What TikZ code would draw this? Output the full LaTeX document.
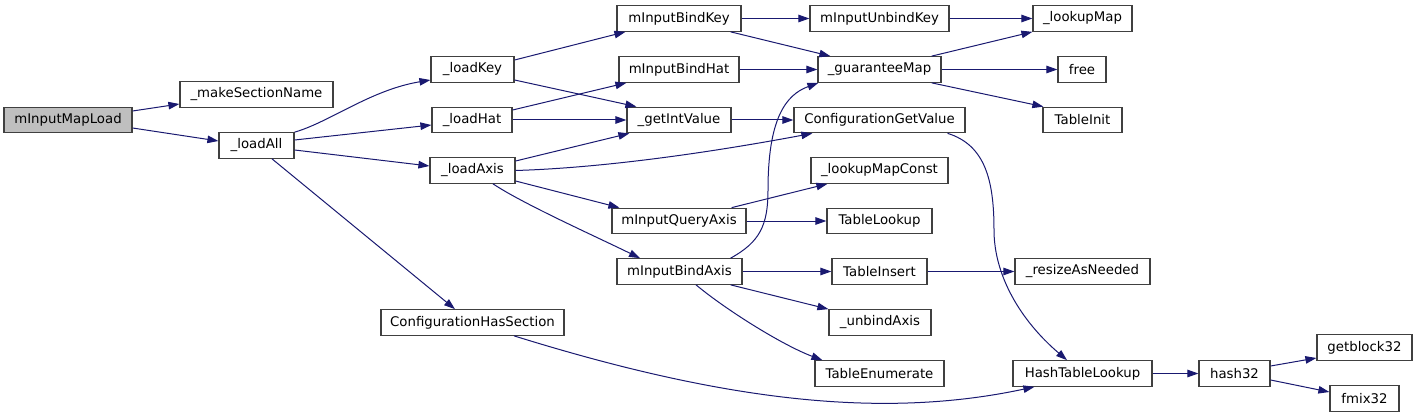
\documentclass[tikz,border=0pt]{standalone}
\usepackage{fontspec}
\setmainfont{DejaVu Sans}
\usetikzlibrary{arrows.meta}
\definecolor{edgeblue}{HTML}{191970}
\definecolor{boxline}{HTML}{404040}
\definecolor{rootfill}{HTML}{BFBFBF}
\tikzset{
  fn/.style={draw=boxline, line width=1.2pt, fill=white, minimum height=25.5pt, inner sep=0pt, font=\fontsize{13.3}{16}\selectfont},
  rootfn/.style={fn, fill=rootfill},
  call/.style={draw=edgeblue, line width=1pt, -{Triangle[length=11pt,width=7.5pt,fill=edgeblue]}}
}
\begin{document}
\begin{tikzpicture}[x=1pt,y=-1pt]
\useasboundingbox (0,0) rectangle (1417,417);
% column 0
\node[rootfn, minimum width=128pt] (mil) at (68,120) {mInputMapLoad};
% column 1
\node[fn, minimum width=153pt] (msn) at (256.5,94.5) {\_makeSectionName};
\node[fn, minimum width=75pt] (la) at (256.5,145.5) {\_loadAll};
% column 2
\node[fn, minimum width=83pt] (lk) at (472.5,69.5) {\_loadKey};
\node[fn, minimum width=80pt] (lh) at (472,120) {\_loadHat};
\node[fn, minimum width=85pt] (lax) at (472.5,170.5) {\_loadAxis};
\node[fn, minimum width=183pt] (chs) at (472.5,322.5) {ConfigurationHasSection};
% column 3
\node[fn, minimum width=124pt] (mibk) at (679,18.5) {mInputBindKey};
\node[fn, minimum width=120pt] (mibh) at (679,69.5) {mInputBindHat};
\node[fn, minimum width=104pt] (giv) at (679,120) {\_getIntValue};
\node[fn, minimum width=134pt] (miqa) at (679,221) {mInputQueryAxis};
\node[fn, minimum width=125pt] (miba) at (679.5,271.5) {mInputBindAxis};
% column 4
\node[fn, minimum width=139pt] (miuk) at (879.5,18.5) {mInputUnbindKey};
\node[fn, minimum width=123pt] (gm) at (879.5,69.5) {\_guaranteeMap};
\node[fn, minimum width=171pt] (cgv) at (879.5,120) {ConfigurationGetValue};
\node[fn, minimum width=137pt] (lmc) at (879.5,170.5) {\_lookupMapConst};
\node[fn, minimum width=105pt] (tl) at (879.5,221) {TableLookup};
\node[fn, minimum width=95pt] (tins) at (879.5,271.5) {TableInsert};
\node[fn, minimum width=102pt] (ua) at (880,322.5) {\_unbindAxis};
\node[fn, minimum width=129pt] (te) at (879.5,373.5) {TableEnumerate};
% column 5
\node[fn, minimum width=99pt] (lm) at (1082.5,18.5) {\_lookupMap};
\node[fn, minimum width=48pt] (free) at (1082,69.5) {free};
\node[fn, minimum width=79pt] (ti) at (1082.5,120) {TableInit};
\node[fn, minimum width=135pt] (ran) at (1082.5,271.5) {\_resizeAsNeeded};
\node[fn, minimum width=139pt] (htl) at (1082.5,373.5) {HashTableLookup};
% column 6,7
\node[fn, minimum width=71pt] (h32) at (1234.5,373.5) {hash32};
\node[fn, minimum width=95pt] (gb) at (1364.5,347.5) {getblock32};
\node[fn, minimum width=69pt] (fm) at (1364.5,398.5) {fmix32};

% edges
\draw[call] ([yshift=9pt]mil.east) -- ([yshift=-9.5pt]msn.west);
\draw[call] ([yshift=-8pt]mil.east) -- ([yshift=4.5pt]la.west);
\draw[call] (la.north east) .. controls +(35,-10) and +(-60,10) .. ([yshift=-10.5pt]lk.west);
\draw[call] ([yshift=5.5pt]la.east) -- ([yshift=-5pt]lh.west);
\draw[call] ([yshift=-4.5pt]la.east) -- ([yshift=4.5pt]lax.west);
\draw[call] ([xshift=15.5pt]la.south) -- ([xshift=-17.5pt]chs.north);

\draw[call] ([yshift=9.5pt]lk.east) -- ([xshift=9pt]mibk.south west);
\draw[call] ([yshift=-10.5pt]lk.east) -- ([xshift=10pt]giv.north west);
\draw[call] ([yshift=10pt]lh.east) -- ([xshift=8pt]mibh.south west);
\draw[call] (lh.east) -- (giv.west);
\draw[call] ([yshift=9.5pt]lax.east) -- ([xshift=3pt]giv.south west);
\draw[call] (lax.east) .. controls +(100,-3) and +(-80,15) .. ([xshift=19pt]cgv.south west);
\draw[call] ([yshift=-10.5pt]lax.east) -- ([xshift=8pt]miqa.north west);
\draw[call] ([xshift=20.5pt]lax.south) .. controls +(30,20) and +(-45,-22) .. ([xshift=-39.5pt]miba.north);
\draw[call] ([xshift=41.5pt]chs.south) .. controls (720,400) and (880,420) .. ([xshift=22pt]htl.south west);

\draw[call] (mibk.east) -- (miuk.west);
\draw[call] ([xshift=-11pt]mibk.south east) -- ([xshift=13pt]gm.north west);
\draw[call] (mibh.east) -- (gm.west);
\draw[call] (giv.east) -- (cgv.west);
\draw[call] ([xshift=-15pt]miqa.north east) -- ([xshift=17pt]lmc.south west);
\draw[call] (miqa.east) -- (tl.west);
\draw[call] ([xshift=-12pt]miba.north east) .. controls (760,242) and (768,225) .. (768,190)
   .. controls (768,120) and (785,95) .. ([xshift=1pt]gm.south west);
\draw[call] (miba.east) -- (tins.west);
\draw[call] ([xshift=-12pt]miba.south east) -- (ua.north west);
\draw[call] ([xshift=16.5pt]miba.south) .. controls +(30,25) and +(-40,-15) .. ([xshift=8pt]te.north west);

\draw[call] (miuk.east) -- (lm.west);
\draw[call] ([xshift=-10pt]gm.north east) -- (lm.south west);
\draw[call] (gm.east) -- (free.west);
\draw[call] ([xshift=-10pt]gm.south east) -- ([xshift=1pt]ti.north west);
\draw[call] ([xshift=-18pt]cgv.south east) .. controls (985,145) and (994,180) .. (994,230)
   .. controls (994,275) and (1020,320) .. ([xshift=-15.5pt]htl.north);
\draw[call] (tins.east) -- (ran.west);

\draw[call] (htl.east) -- (h32.west);
\draw[call] ([yshift=7.5pt]h32.east) -- ([yshift=-10.5pt]gb.west);
\draw[call] ([yshift=-6.5pt]h32.east) -- ([yshift=6.5pt]fm.west);
\end{tikzpicture}
\end{document}
